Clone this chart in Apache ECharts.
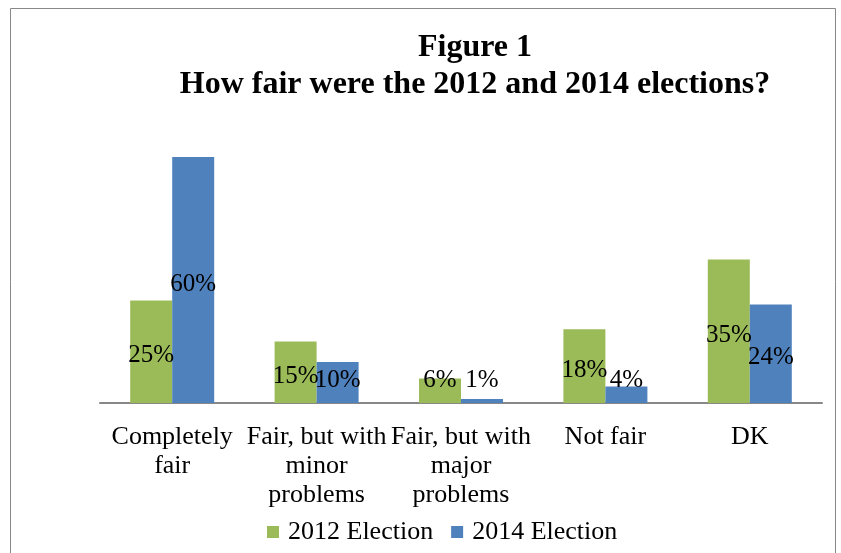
<!DOCTYPE html>
<html>
<head>
<meta charset="utf-8">
<script src="https://cdn.jsdelivr.net/npm/echarts@6/dist/echarts.min.js"></script>
<style>html,body{margin:0;padding:0;background:#fff}#c{width:841px;height:553px}</style>
</head>
<body>
<div id="c"></div>
<script>
var titleLines = ['Figure 1', 'How fair were the 2012 and 2014 elections?'];
var categories = ['Completely\nfair', 'Fair, but with\nminor\nproblems', 'Fair, but with\nmajor\nproblems', 'Not fair', 'DK'];
var seriesNames = ['2012 Election', '2014 Election'];
var values2012 = [25, 15, 6, 18, 35];
var values2014 = [60, 10, 1, 4, 24];

var FONT = '"Liberation Serif", "Times New Roman", serif';
var chart = echarts.init(document.getElementById('c'));
var labelCfg = {
  show: true, position: 'inside', color: '#000', fontFamily: FONT, fontSize: 25,
  formatter: function (p) { return p.value + '%'; }
};
function clampLayout(p) {
  var r = p.labelRect;
  var cy = r.y + r.height / 2 + 4;
  if (cy > 380) return { dy: 380 - (cy - 4) };
  return { dy: 4 };
}
chart.setOption({
  animation: false,
  graphic: [
    { type: 'rect', shape: { x: 10.5, y: 8.5, width: 825, height: 600 }, style: { fill: 'none', stroke: '#888', lineWidth: 1 }, silent: true },
    { type: 'text', x: 475, y: 48, style: { text: titleLines[0], textAlign: 'center', textVerticalAlign: 'middle', font: 'bold 32px ' + FONT, fill: '#000' } },
    { type: 'text', x: 475, y: 85, style: { text: titleLines[1], textAlign: 'center', textVerticalAlign: 'middle', font: 'bold 32px ' + FONT, fill: '#000' } }
  ],
  grid: { left: 100, right: 19, top: 116, bottom: 150, containLabel: false },
  legend: {
    bottom: 3, left: 262, itemWidth: 12, itemHeight: 12, itemGap: 18,
    icon: 'rect',
    textStyle: { fontFamily: FONT, fontSize: 26, color: '#000', padding: [0, 0, 0, 4] },
    data: seriesNames
  },
  xAxis: {
    type: 'category', data: categories,
    axisLine: { lineStyle: { color: '#888', width: 2 } },
    axisTick: { show: false },
    axisLabel: { interval: 0, color: '#000', fontFamily: FONT, fontSize: 26, lineHeight: 29, margin: 20 }
  },
  yAxis: { type: 'value', min: 0, max: 70, show: false, splitLine: { show: false } },
  series: [
    { name: seriesNames[0], type: 'bar', data: values2012, barWidth: 42, barGap: '0%',
      itemStyle: { color: '#9BBB59' }, label: labelCfg, labelLayout: clampLayout },
    { name: seriesNames[1], type: 'bar', data: values2014, barWidth: 42, barGap: '0%',
      itemStyle: { color: '#4F81BD' }, label: labelCfg, labelLayout: clampLayout }
  ]
});
</script>
</body>
</html>
